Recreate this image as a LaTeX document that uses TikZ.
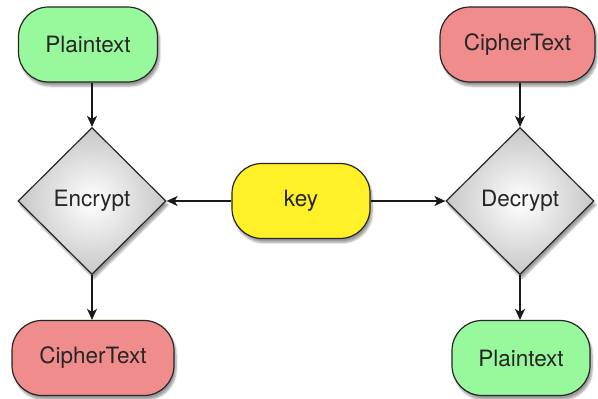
\documentclass[tikz,border=0pt]{standalone}
\usepackage{fontspec}
\setmainfont{TeX Gyre Heros}
\usepackage{tikz}
\usetikzlibrary{shapes.geometric,arrows.meta,shadows.blur}

\definecolor{plaingreen}{RGB}{152,248,156}
\definecolor{cipherred}{RGB}{240,140,140}
\definecolor{keyyellow}{RGB}{255,240,40}

\begin{document}
\begin{tikzpicture}
  [x=1pt,y=-1pt,font=\fontsize{22.5}{26}\selectfont,text=black!85,
   every node/.style={draw=black!85,line width=1.2pt,
     blur shadow={shadow xshift=2pt,shadow yshift=-4pt,shadow opacity=40,shadow blur steps=6}},
   textbox/.style={rounded corners=30pt,minimum height=75pt,inner sep=0pt},
   cryptbox/.style={diamond,aspect=1,minimum width=148pt,minimum height=147pt,inner sep=0pt,
     shading=radial,inner color=white,outer color=black!22},
   flow/.style={-{Stealth[length=11pt,width=10pt,inset=3pt]},line width=1.4pt,black!90}]

  \useasboundingbox (0,0) rectangle (598,399);

  \node[textbox,fill=plaingreen,minimum width=139pt] (plain1) at (88,44.5) {Plaintext};
  \node[cryptbox] (enc) at (92,201) {Encrypt};
  \node[textbox,fill=cipherred,minimum width=162pt] (cipher1) at (93,358) {CipherText};

  \node[textbox,fill=keyyellow,minimum width=138pt] (key) at (301,201) {key};

  \node[textbox,fill=cipherred,minimum width=155pt] (cipher2) at (517.5,44.5) {CipherText};
  \node[cryptbox] (dec) at (520,201) {Decrypt};
  \node[textbox,fill=plaingreen,minimum width=138pt] (plain2) at (521,358) {Plaintext};

  \draw[flow] (plain1.south -| enc) -- (enc.north);
  \draw[flow] (enc.south) -- (cipher1.north -| enc);
  \draw[flow] (cipher2.south -| dec) -- (dec.north);
  \draw[flow] (dec.south) -- (plain2.north -| dec);

  \foreach \to in {enc,dec}
    \draw[flow] (key) -- (\to);
\end{tikzpicture}
\end{document}
